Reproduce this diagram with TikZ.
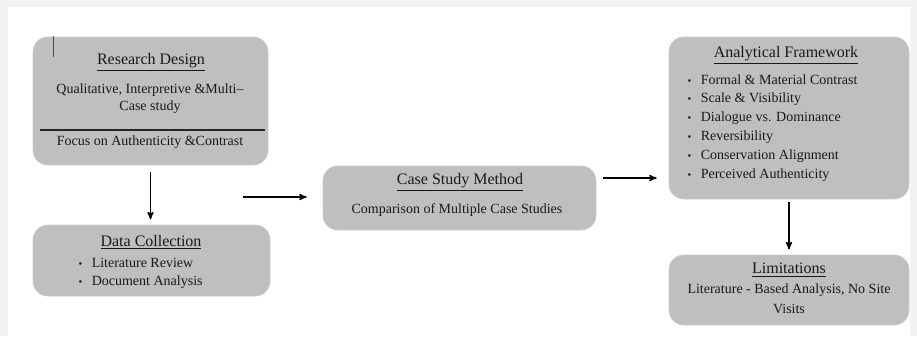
\documentclass[tikz,border=0pt]{standalone}
\usepackage{fontspec}
\setmainfont{Liberation Serif}
\usetikzlibrary{arrows,fit}

\newcommand{\bul}{{\fontsize{8}{8}\selectfont\textbullet}}

\begin{document}
\begin{tikzpicture}[>=stealth',           % arrow tip
                    x=0.75pt,y=-0.75pt,
                    box/.style={fill=black!25,draw=black!20,rounded corners=11pt,inner sep=0pt},
                    ttl/.style={font=\rmfamily\fontsize{12}{14}\selectfont,text=black!90},
                    txt/.style={font=\rmfamily\fontsize{10.5}{12.75}\selectfont,text=black!90},
                    itm/.style={txt,anchor=west},
                    arr/.style={->,line width=1pt}]


%%%% page basics
\fill[black!5] (0,0) rectangle (917,336);
\fill[white] (8,7) rectangle (910,336);
\useasboundingbox (0,0) rectangle (917,336);


%%%% research design
\node[box,fit={(33,37) (268,165)}] (rd) {};
\node[ttl] (rdt) at (151,62) {\underline{Research Design}};
\node[txt] (rd1) at (150,90) {Qualitative, Interpretive \&Multi–};
\node[txt] (rd2) at (150,107) {Case study};
\draw[line width=1.2pt,black!85] (40,130) -- (265,130);
\node[txt] (rd3) at (150,142) {Focus on Authenticity \&Contrast};
\draw[black!70] (53,36) -- (53,57);


%%%% data collection
\node[box,fit={(33,225) (270,296)}] (dc) {};
\node[ttl] (dct) at (151,242) {\underline{Data Collection}};
\node[itm] (dc1) at (74,263) {\bul\hspace{7pt}Literature Review};
\node[itm] (dc2) at (74,282) {\bul\hspace{7pt}Document Analysis};


%%%% case study method
\node[box,fit={(323,166) (596,230)}] (csm) {};
\node[ttl] (csmt) at (460,182) {\underline{Case Study Method}};
\node[txt] (csm1) at (457,210) {Comparison of Multiple Case Studies};


%%%% analytical framework
\node[box,fit={(669,37) (909,199)}] (af) {};
\node[ttl] (aft) at (786,55) {\underline{Analytical Framework}};
\node[itm] (af1) at (683,80) {\bul\hspace{7pt}Formal \& Material Contrast};
\node[itm] (af2) at (683,99) {\bul\hspace{7pt}Scale \& Visibility};
\node[itm] (af3) at (683,118) {\bul\hspace{7pt}Dialogue vs. Dominance};
\node[itm] (af4) at (683,137) {\bul\hspace{7pt}Reversibility};
\node[itm] (af5) at (683,156) {\bul\hspace{7pt}Conservation Alignment};
\node[itm] (af6) at (683,175) {\bul\hspace{7pt}Perceived Authenticity};


%%%% limitations
\node[box,fit={(669,255) (909,325)}] (lim) {};
\node[ttl] (limt) at (789,270) {\underline{Limitations}};
\node[txt] (lim1) at (789,290) {Literature - Based Analysis, No Site};
\node[txt] (lim2) at (789,309) {Visits};


%% ARROWS
\coordinate (m1) at (243,197);
\coordinate (m2) at (603,178);

\draw[arr,shorten <=5pt,shorten >=4pt] (rd.south) -- (rd.south |- dc.north);
\draw[arr,shorten >=12pt] (m1) -- (m1 -| csm.west);
\draw[arr,shorten >=9pt] (m2) -- (m2 -| af.west);
\draw[arr,shorten <=2pt,shorten >=4pt] (af.south) -- (af.south |- lim.north);

\end{tikzpicture}
\end{document}
